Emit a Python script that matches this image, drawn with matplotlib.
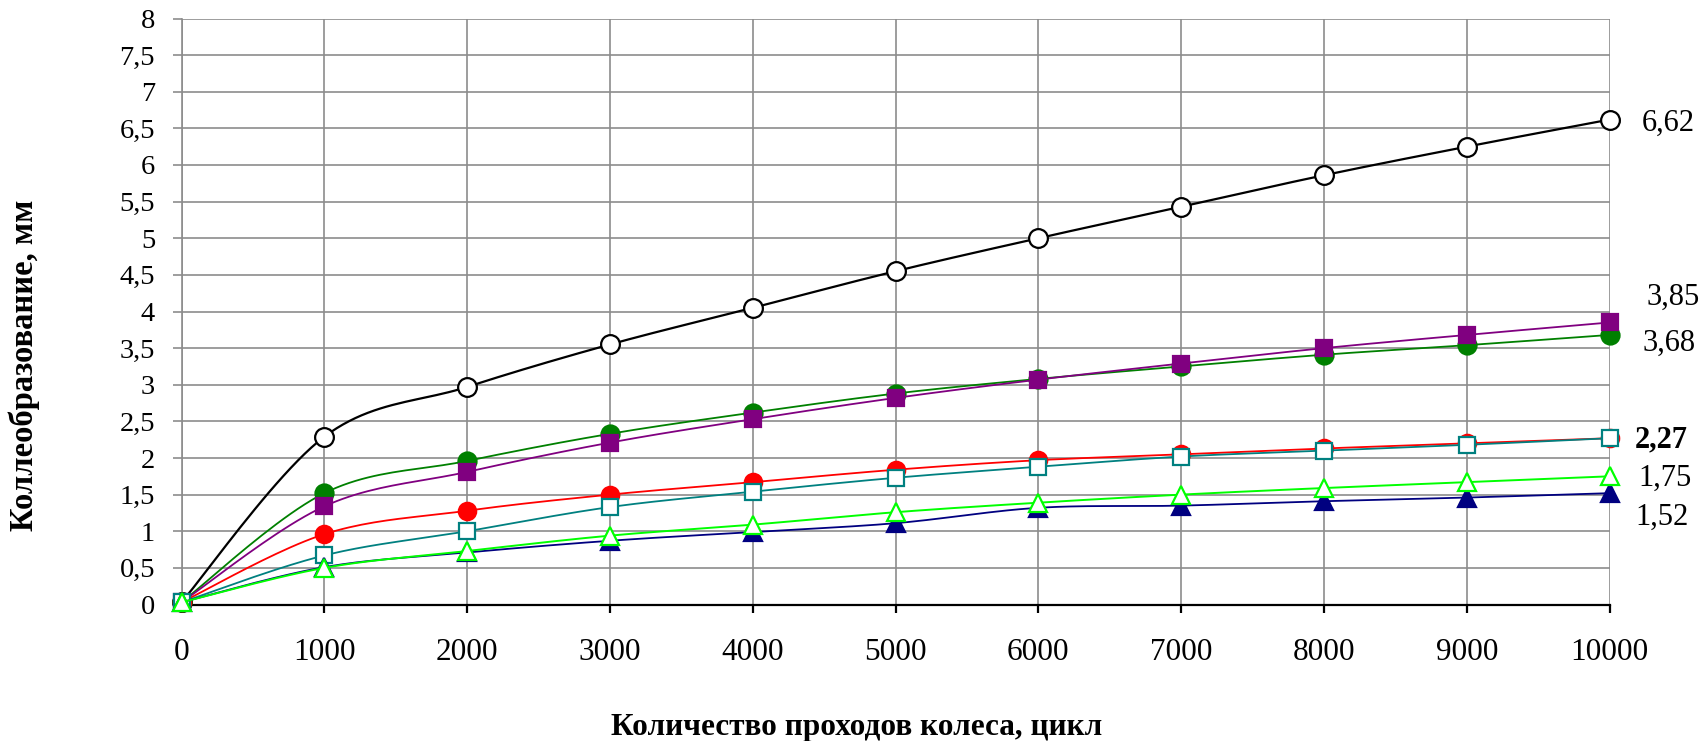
import numpy as np
import matplotlib
matplotlib.use("Agg")
import matplotlib.pyplot as plt

# ---------------- data ----------------
cycles = [0, 1000, 2000, 3000, 4000, 5000, 6000, 7000, 8000, 9000, 10000]
s_black  = [0.03, 2.29, 2.97, 3.55, 4.05, 4.55, 5.00, 5.43, 5.86, 6.25, 6.62]
s_green  = [0.03, 1.52, 1.96, 2.33, 2.62, 2.88, 3.08, 3.25, 3.41, 3.54, 3.68]
s_purple = [0.03, 1.34, 1.81, 2.21, 2.53, 2.82, 3.07, 3.29, 3.50, 3.68, 3.85]
s_red    = [0.03, 0.96, 1.28, 1.50, 1.67, 1.84, 1.97, 2.05, 2.13, 2.20, 2.27]
s_teal   = [0.03, 0.67, 1.00, 1.33, 1.54, 1.73, 1.88, 2.02, 2.10, 2.18, 2.27]
s_navy   = [0.03, 0.51, 0.71, 0.87, 0.99, 1.11, 1.32, 1.35, 1.41, 1.46, 1.52]
s_lime   = [0.03, 0.50, 0.73, 0.94, 1.09, 1.26, 1.39, 1.50, 1.59, 1.67, 1.75]

end_labels = ["6,62", "3,85", "3,68", "2,27", "1,75", "1,52"]
end_bold = [False, False, False, True, False, False]

yticks = [0, 0.5, 1, 1.5, 2, 2.5, 3, 3.5, 4, 4.5, 5, 5.5, 6, 6.5, 7, 7.5, 8]
ytick_labels = ["0", "0,5", "1", "1,5", "2", "2,5", "3", "3,5", "4", "4,5",
                "5", "5,5", "6", "6,5", "7", "7,5", "8"]
xticks = [0, 1000, 2000, 3000, 4000, 5000, 6000, 7000, 8000, 9000, 10000]

xlabel = "Количество проходов колеса, цикл"
ylabel = "Коллеобразование, мм"

# -------------- helpers ---------------
def smooth(x, y, n=24):
    """Catmull-Rom path through the points (like Excel smoothed lines)."""
    P = np.column_stack([np.asarray(x, float), np.asarray(y, float)])
    P = np.vstack([P[0], P, P[-1]])
    out = []
    t = np.linspace(0, 1, n)[:, None]
    for i in range(1, len(P) - 2):
        p0, p1, p2, p3 = P[i - 1], P[i], P[i + 1], P[i + 2]
        seg = 0.5 * ((2 * p1) + (-p0 + p2) * t + (2 * p0 - 5 * p1 + 4 * p2 - p3) * t ** 2
                     + (-p0 + 3 * p1 - 3 * p2 + p3) * t ** 3)
        out.append(seg if i == 1 else seg[1:])
    S = np.vstack(out)
    return S[:, 0], S[:, 1]

plt.rcParams['font.family'] = ['Liberation Serif', 'DejaVu Serif']

W, H = 1702, 741
fig = plt.figure(figsize=(W / 100, H / 100), dpi=100)
ax = fig.add_axes([181.5 / W, 1 - 604.5 / H, (1609.5 - 181.5) / W, (604.5 - 18.5) / H])

ax.set_xlim(0, 10000)
ax.set_ylim(0, 8)

grid_c = '#8c8c8c'
ax.set_xticks(xticks)
ax.set_yticks(yticks)
ax.set_yticklabels(ytick_labels)
ax.grid(True, color=grid_c, linewidth=1.2, zorder=0)
ax.set_axisbelow(True)

for sp in ['top', 'right']:
    ax.spines[sp].set_visible(False)
ax.spines['left'].set_color(grid_c)
ax.spines['left'].set_linewidth(1.2)
ax.spines['bottom'].set_color('black')
ax.spines['bottom'].set_linewidth(1.6)
ax.spines['bottom'].set_zorder(2.5)

ax.tick_params(axis='y', direction='out', length=6.5, width=1.2, color=grid_c,
               labelsize=20.5, pad=12.5)
ax.tick_params(axis='x', direction='out', length=5.5, width=1.6, color='black',
               labelsize=22.5, pad=18.5)

series = [
    (s_black,  'black',   'o', 'white',   13.5, 1.6),
    (s_green,  '#008000', 'o', '#008000', 13,   1.3),
    (s_purple, '#800080', 's', '#800080', 12,   1.3),
    (s_red,    '#ff0000', 'o', '#ff0000', 12.5, 1.3),
    (s_teal,   '#008080', 's', 'white',   11.5, 1.3),
    (s_navy,   '#000080', '^', '#000080', 12.5, 1.3),
    (s_lime,   '#00ff00', '^', 'white',   12.5, 1.4),
]

z = 3
for vals, col, mk, fc, ms, lw in series:
    sx, sy = smooth(cycles, vals)
    ax.plot(sx, sy, color=col, linewidth=lw, zorder=z, clip_on=False)
    ax.plot(cycles, vals, linestyle='none', marker=mk, markersize=ms,
            markerfacecolor=fc, markeredgecolor=col, markeredgewidth=1.6,
            zorder=z + 0.5, clip_on=False)
    z += 1

# end value labels (layout positions in pixels)
lab_px_x = [1642, 1647, 1643, 1635, 1638, 1635]
lab_px_y = [123, 297, 343, 440, 478, 517]
for txt, b, px, py in zip(end_labels, end_bold, lab_px_x, lab_px_y):
    fig.text(px / W, 1 - py / H, txt, ha='left', va='center', fontsize=22,
             fontweight='bold' if b else 'normal')

fig.text(857 / W, 1 - 727 / H, xlabel, ha='center', va='center',
         fontsize=22.5, fontweight='bold')
fig.text(24 / W, 1 - 365 / H, ylabel, ha='center', va='center',
         fontsize=23.5, fontweight='bold', rotation=90)

fig.savefig('out.png', dpi=100, facecolor='white')
